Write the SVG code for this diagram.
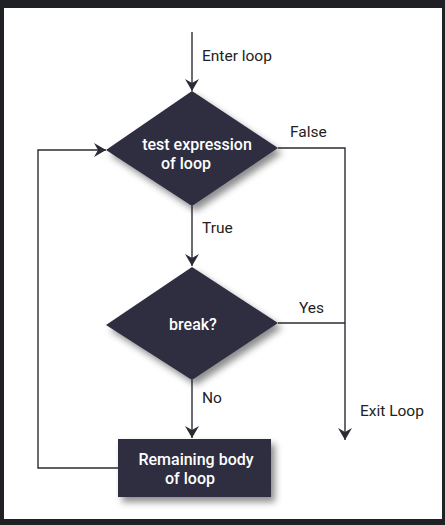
<svg xmlns="http://www.w3.org/2000/svg" width="445" height="525" viewBox="0 0 445 525">
  <style>
    .node { fill: #2d2d41; filter: url(#shadow); }
    .ntext { fill: #ffffff; font-family: Roboto, "Liberation Sans", sans-serif; font-size: 16px; font-weight: 500; text-anchor: middle; }
    .label { fill: #222222; font-family: Roboto, "Liberation Sans", sans-serif; font-size: 15.5px; }
    .wire { fill: none; stroke: #2b2b33; stroke-width: 1.4; }
  </style>
  <defs>
    <filter id="shadow" x="-20%" y="-20%" width="150%" height="150%">
      <feDropShadow dx="4" dy="5" stdDeviation="3.5" flood-color="#000000" flood-opacity="0.45"/>
    </filter>
    <marker id="arrow" viewBox="0 0 12 14" refX="12" refY="7" markerWidth="12" markerHeight="14" markerUnits="userSpaceOnUse" orient="auto">
      <path d="M0,0 L12,7 L0,14 L4,7 Z" fill="#2b2b33"/>
    </marker>
  </defs>

  <!-- frame -->
  <rect x="0" y="0" width="445" height="525" fill="#202124"/>
  <rect x="4" y="8" width="438" height="511" fill="#ffffff"/>

  <g id="connectors">
    <path class="wire" d="M192,32 V91" marker-end="url(#arrow)"/>
    <path class="wire" d="M192,206 V266" marker-end="url(#arrow)"/>
    <path class="wire" d="M192,380 V438" marker-end="url(#arrow)"/>
    <path class="wire" d="M278,148 H345 V440" marker-end="url(#arrow)"/>
    <path class="wire" d="M278,323 H345"/>
    <path class="wire" d="M118,468 H38 V150 H106" marker-end="url(#arrow)"/>
  </g>

  <g id="labels">
    <text class="label" x="202" y="61">Enter loop</text>
    <text class="label" x="290" y="137">False</text>
    <text class="label" x="202" y="233">True</text>
    <text class="label" x="299" y="313">Yes</text>
    <text class="label" x="202" y="403">No</text>
    <text class="label" x="360" y="416">Exit Loop</text>
  </g>

  <g id="test-expression">
    <polygon class="node" points="192,91 278,148 192,206 106,150"/>
    <text class="ntext" x="197" y="150">test expression</text>
    <text class="ntext" x="186" y="169">of loop</text>
  </g>

  <g id="break">
    <polygon class="node" points="192,267 278,323 192,380 106,325"/>
    <text class="ntext" x="193" y="330">break?</text>
  </g>

  <g id="remaining-body">
    <rect class="node" x="118" y="439" width="153" height="58"/>
    <text class="ntext" x="196" y="465">Remaining body</text>
    <text class="ntext" x="190" y="484">of loop</text>
  </g>
</svg>
